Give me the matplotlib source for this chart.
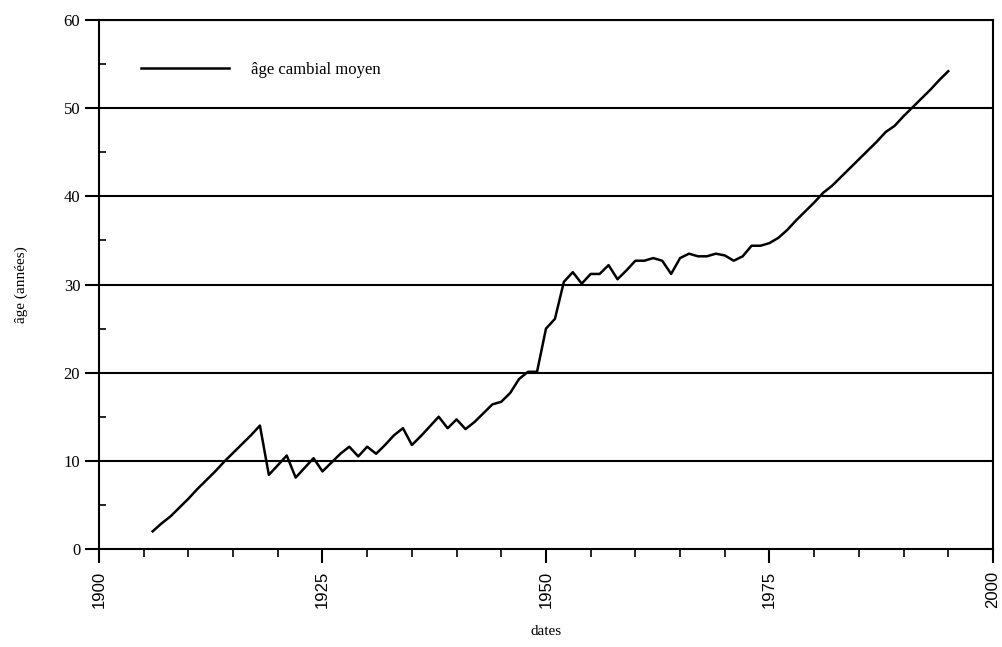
import numpy as np
import matplotlib.pyplot as plt
from matplotlib.ticker import MultipleLocator

# mean cambial age per year
years = np.arange(1906, 1996)
age = [
    2.0, 2.9, 3.7, 4.7, 5.7, 6.8, 7.8, 8.8, 9.9, 10.9,        # 1906-1915
    11.9, 12.9, 14.0, 8.4, 9.5, 10.6, 8.1, 9.2, 10.3, 8.8,    # 1916-1925
    9.8, 10.8, 11.6, 10.5, 11.6, 10.8, 11.8, 12.9, 13.7, 11.8,  # 1926-1935
    12.8, 13.9, 15.0, 13.7, 14.7, 13.6, 14.4, 15.4, 16.4, 16.7,  # 1936-1945
    17.7, 19.3, 20.1, 20.1, 25.0, 26.1, 30.3, 31.4, 30.1, 31.2,  # 1946-1955
    31.2, 32.2, 30.6, 31.6, 32.7, 32.7, 33.0, 32.7, 31.2, 33.0,  # 1956-1965
    33.5, 33.2, 33.2, 33.5, 33.3, 32.7, 33.2, 34.4, 34.4, 34.7,  # 1966-1975
    35.3, 36.2, 37.3, 38.3, 39.3, 40.4, 41.2, 42.2, 43.2, 44.2,  # 1976-1985
    45.2, 46.2, 47.3, 48.0, 49.1, 50.1, 51.1, 52.1, 53.2, 54.2,  # 1986-1995
]

LEGEND_LABEL = "âge cambial moyen"

plt.rcParams['font.family'] = ['Liberation Serif', 'DejaVu Serif']

fig = plt.figure(figsize=(10.03, 6.47), dpi=100)
ax = fig.add_axes([0.0987, 0.1515, 0.8913, 0.8175])

ax.plot(years, age, color='black', linewidth=1.8, label=LEGEND_LABEL)

ax.set_xlim(1900, 2000)
ax.set_ylim(0, 60)

# horizontal grid lines at each major y tick
for v in range(10, 61, 10):
    ax.axhline(v, color='black', linewidth=1.5, zorder=1)

ax.xaxis.set_major_locator(MultipleLocator(25))
ax.xaxis.set_minor_locator(MultipleLocator(5))
ax.yaxis.set_major_locator(MultipleLocator(10))
ax.yaxis.set_minor_locator(MultipleLocator(5))

ax.tick_params(axis='x', which='major', direction='out', length=10, width=1.5,
               labelsize=12, pad=6)
ax.tick_params(axis='x', which='minor', direction='out', length=6, width=1.2)
ax.tick_params(axis='y', which='major', direction='out', length=10, width=1.5,
               labelsize=12)
ax.tick_params(axis='y', which='minor', direction='in', length=5, width=1.2)

for lab in ax.get_xticklabels():
    lab.set_rotation(90)
    lab.set_family(['Liberation Sans', 'DejaVu Sans'])

for s in ax.spines.values():
    s.set_linewidth(1.5)

ax.set_xlabel("dates", fontsize=11, labelpad=12)
ax.set_ylabel("âge (années)", fontsize=11, labelpad=26)

ax.legend(loc='upper left', bbox_to_anchor=(0.03, 0.95), frameon=False,
          fontsize=12, handlelength=5.3, handletextpad=1.3)

fig.savefig("out.png", dpi=100)
